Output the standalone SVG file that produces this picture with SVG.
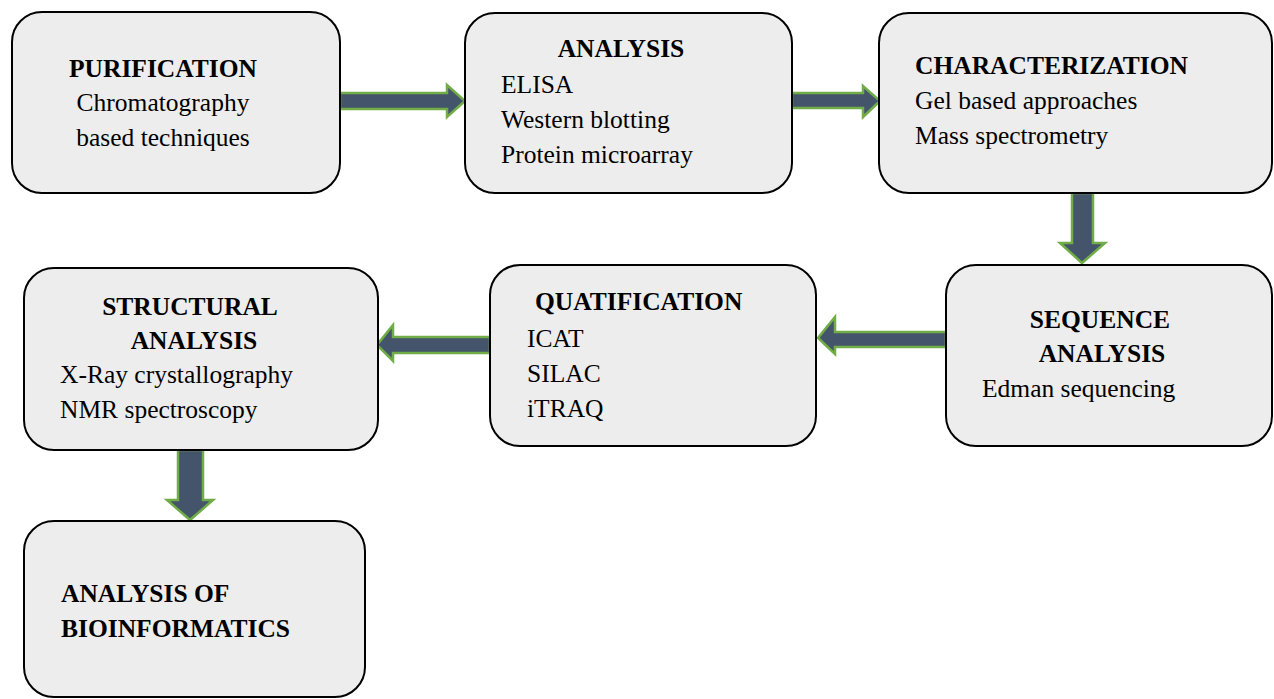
<svg xmlns="http://www.w3.org/2000/svg" width="1274" height="699" viewBox="0 0 1274 699">
<style>
.box{fill:#ededed;stroke:#000;stroke-width:2}
.arr{fill:#44546a;stroke:#70ad47;stroke-width:2.5;stroke-linejoin:miter}
text{font-family:'Liberation Serif','Tinos','DejaVu Serif',serif;font-size:25.5px;fill:#000}
.b{font-weight:bold}
.m{text-anchor:middle}
</style>
<rect width="1274" height="699" fill="#fff"/>
<g id="connectors">
<polygon class="arr" points="340,93 447,93 447,85 465,101 447,117 447,109 340,109"/>
<polygon class="arr" points="792,93 863,93 863,86 880,101 863,117 863,108 792,108"/>
<polygon class="arr" points="1072,193 1093,193 1093,243 1105,243 1082,263 1060,243 1072,243"/>
<polygon class="arr" points="946,332 835,332 835,317 818,338 835,354 835,347 946,347"/>
<polygon class="arr" points="490,337 393,337 393,325 377,345 393,361 393,353 490,353"/>
<polygon class="arr" points="178,450 203,450 203,500 213,500 190,520 167,500 178,500"/>
</g>
<g id="purification">
<rect class="box" x="12" y="12" width="328" height="181" rx="30"/>
<text class="b m" x="163" y="77">PURIFICATION</text>
<text class="m" x="163" y="111">Chromatography</text>
<text class="m" x="163" y="146">based techniques</text>
</g>
<g id="analysis">
<rect class="box" x="465" y="13" width="327" height="180" rx="30"/>
<text class="b m" x="621" y="57">ANALYSIS</text>
<text x="501" y="93">ELISA</text>
<text x="501" y="128">Western blotting</text>
<text x="501" y="163">Protein microarray</text>
</g>
<g id="characterization">
<rect class="box" x="879" y="13" width="393" height="180" rx="30"/>
<text class="b" x="915" y="74">CHARACTERIZATION</text>
<text x="915" y="109">Gel based approaches</text>
<text x="915" y="144">Mass spectrometry</text>
</g>
<g id="sequence">
<rect class="box" x="946" y="265" width="326" height="181" rx="30"/>
<text class="b m" x="1100" y="328">SEQUENCE</text>
<text class="b m" x="1102" y="362">ANALYSIS</text>
<text x="982" y="397">Edman sequencing</text>
</g>
<g id="quatification">
<rect class="box" x="490" y="265" width="326" height="181" rx="30"/>
<text class="b" x="535" y="310">QUATIFICATION</text>
<text x="527" y="347">ICAT</text>
<text x="527" y="382">SILAC</text>
<text x="527" y="417">iTRAQ</text>
</g>
<g id="structural">
<rect class="box" x="24" y="268" width="354" height="182" rx="30"/>
<text class="b m" x="190" y="315">STRUCTURAL</text>
<text class="b m" x="194" y="349">ANALYSIS</text>
<text x="60" y="383">X-Ray crystallography</text>
<text x="60" y="418">NMR spectroscopy</text>
</g>
<g id="bioinformatics">
<rect class="box" x="24" y="521" width="341" height="176" rx="30"/>
<text class="b" x="61" y="602">ANALYSIS OF</text>
<text class="b" x="61" y="637">BIOINFORMATICS</text>
</g>
</svg>
